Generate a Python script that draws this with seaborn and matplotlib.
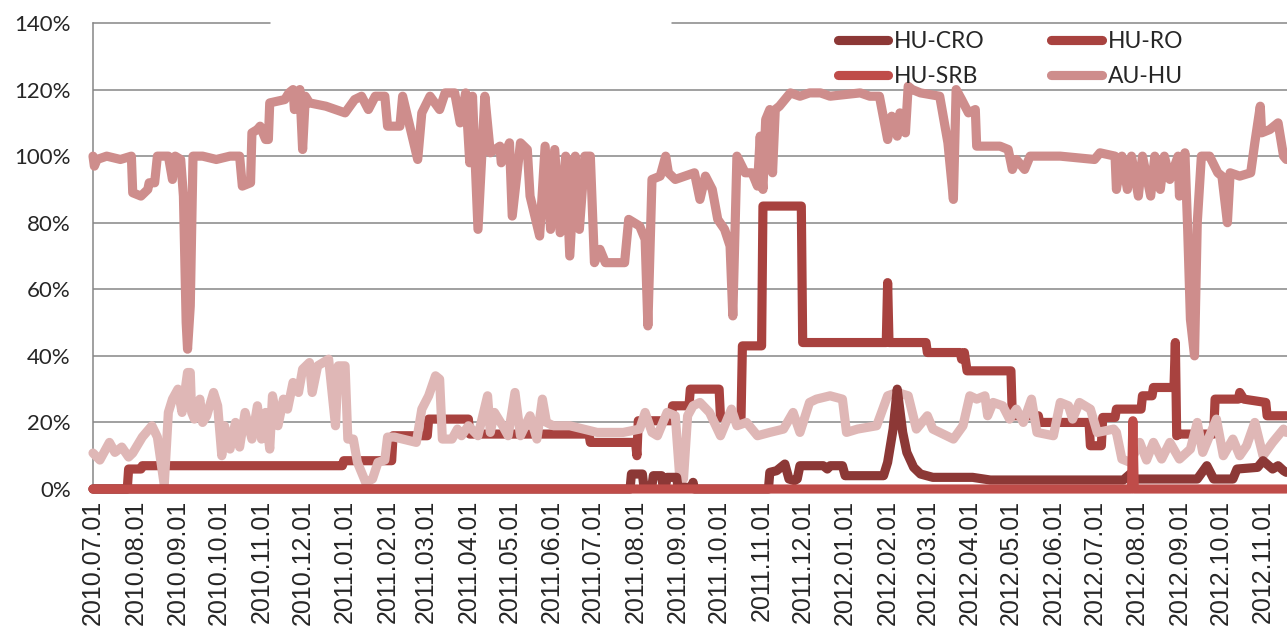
import numpy as np
import pandas as pd
import matplotlib
matplotlib.use('Agg')
import matplotlib.pyplot as plt
import matplotlib.dates as mdates
import seaborn as sns

# day offsets from 2010.07.01 and values in %
START = pd.Timestamp('2010-07-01')
END_DAY = 871.5

hu_cro_day = [0, 392, 393, 401, 402, 408, 409, 415, 416, 418, 419, 426, 427, 437, 438, 439, 493, 494, 499, 505,
              508, 512, 514, 516, 533, 536, 538, 547, 549, 558, 562, 577, 580, 584, 587, 591, 594, 599, 604, 613,
              642, 655, 752, 757, 760, 766, 806, 813, 818, 832, 835, 850, 854, 861, 865, 869, 871]
hu_cro_val = [0, 0, 4.5, 4.5, 1, 1, 4, 4, 1, 1, 3.5, 3.5, 0.5, 0.5, 2, 0, 0, 5, 5.5, 7.5,
              3, 2.5, 3, 7, 7, 6, 7, 7, 4, 4, 4, 4, 8, 18, 30, 17, 11, 6.5, 4.5, 3.5,
              3.5, 2.7, 2.7, 4.5, 3, 3, 3, 7, 3, 3, 6, 6.5, 8.5, 6, 7, 5.5, 5]

hu_ro_day = [0, 25, 26, 35, 36, 182, 183, 218, 219, 244, 245, 274, 275, 362, 363, 396, 397, 398, 422, 423,
             435, 436, 457, 458, 473, 474, 488, 489, 517, 518, 579, 580, 581, 608, 609, 633, 634, 636, 638, 670,
             671, 690, 691, 727, 728, 736, 737, 746, 747, 765, 766, 773, 774, 789, 790, 791, 792, 818, 819, 836,
             837, 840, 856, 857, 871]
hu_ro_val = [0, 0, 6, 6, 7, 7, 8.5, 8.5, 16, 16, 21, 21, 16.5, 16.5, 14, 14, 10, 20.5, 20.5, 25,
             25, 30, 30, 21.5, 21.5, 43, 43, 85, 85, 44, 44, 62, 44, 44, 41, 41, 39, 41, 35.5, 35.5,
             22, 22, 20, 20, 13, 13, 21.5, 21.5, 24, 24, 28, 28, 30.5, 30.5, 44, 16, 16.5, 16.5, 27, 27,
             29, 27, 26, 22, 22]

hu_srb_day = [0, 758, 759, 760, 871]
hu_srb_val = [0, 0, 20.5, 0, 0]

au_hu_day = [0, 1, 3, 10, 20, 28, 29, 35, 40, 41, 45, 47, 55, 58, 60, 64, 66, 68, 69, 71,
             73, 80, 90, 100, 107, 109, 115, 116, 120, 122, 126, 128, 129, 140, 143, 146, 147, 151, 153, 155,
             158, 170, 184, 191, 196, 201, 206, 213, 215, 224, 226, 237, 240, 246, 253, 257, 264, 268, 272, 275,
             277, 281, 286, 290, 297, 298, 304, 306, 312, 317, 319, 326, 330, 334, 337, 341, 345, 348, 352, 355,
             359, 363, 366, 370, 374, 388, 391, 399, 403, 405, 408, 414, 418, 420, 425, 432, 439, 443, 447, 452,
             456, 461, 465, 467, 470, 476, 481, 485, 487, 488, 489, 491, 494, 496, 498, 501, 505, 509, 516, 523,
             531, 538, 560, 567, 574, 580, 583, 587, 589, 593, 595, 598, 604, 618, 624, 628, 630, 634, 639, 644,
             645, 662, 668, 671, 674, 680, 684, 691, 706, 731, 735, 746, 747, 751, 755, 758, 763, 766, 772, 775,
             779, 782, 786, 792, 793, 797, 799, 801, 804, 806, 809, 815, 821, 824, 828, 830, 837, 845, 848, 852,
             853, 859, 865, 869, 871]
au_hu_val = [100, 97, 99, 100, 99, 100, 89, 88, 90, 92, 92, 100, 100, 93, 100, 99, 88, 50, 42, 55,
             100, 100, 99, 100, 100, 91, 92, 107, 108, 109, 105, 105, 116, 117, 119, 120, 114, 120, 102, 118,
             116, 115, 113, 117, 118, 114, 118, 118, 109, 109, 118, 99, 113, 118, 114, 119, 119, 110, 119, 98,
             118, 78, 118, 101, 103, 98, 104, 82, 104, 102, 88, 76, 103, 78, 102, 77, 100, 70, 100, 78,
             100, 100, 68, 72, 68, 68, 81, 79, 75, 49, 93, 94, 100, 95, 93, 94, 95, 87, 94, 90,
             81, 78, 73, 52, 100, 95, 95, 91, 106, 95, 90, 111, 114, 95, 114, 115, 117, 119, 118, 119,
             119, 118, 119, 118, 118, 105, 112, 106, 113, 107, 121, 120, 119, 118, 104, 87, 120, 117, 113, 114,
             103, 103, 102, 96, 99, 96, 100, 100, 100, 99, 101, 100, 90, 100, 90, 100, 88, 100, 88, 100,
             90, 100, 93, 100, 88, 101, 78, 51, 40, 80, 100, 100, 95, 94, 80, 95, 94, 95, 104, 115,
             107, 108, 110, 100, 99]

# fifth series, not named in the legend
other_day = [0, 5, 12, 16, 21, 26, 29, 36, 43, 47, 52, 55, 58, 62, 65, 69, 71, 72, 74, 78,
             80, 83, 88, 91, 94, 96, 100, 104, 107, 111, 116, 120, 123, 126, 129, 131, 135, 139, 142, 146,
             150, 153, 158, 160, 164, 172, 177, 179, 184, 186, 190, 193, 199, 204, 208, 213, 215, 220, 236, 240,
             245, 250, 253, 255, 262, 266, 269, 274, 281, 288, 290, 293, 299, 303, 308, 312, 319, 324, 328, 331,
             336, 348, 358, 368, 387, 399, 403, 408, 412, 419, 425, 428, 431, 434, 438, 443, 450, 458, 466, 470,
             477, 485, 494, 504, 511, 516, 523, 528, 538, 547, 550, 558, 572, 580, 587, 595, 601, 609, 613, 628,
             635, 640, 645, 651, 653, 657, 664, 669, 674, 679, 685, 689, 701, 706, 712, 715, 720, 728, 733, 745,
             747, 751, 757, 764, 769, 774, 780, 786, 793, 801, 806, 810, 820, 825, 832, 837, 842, 848, 854, 861,
             869, 871]
other_val = [10.8, 8.7, 14, 11, 12.6, 9.6, 10.8, 15.6, 19, 15.6, 1.2, 23, 27, 30, 23, 35, 35, 23, 21, 27,
             20, 22, 29, 25, 10, 19, 12, 20, 12.6, 23, 15, 25, 15, 23, 12, 28, 19, 27, 24, 32,
             29, 36, 38, 29, 37, 39, 19, 37, 37, 15, 15, 8, 2, 3, 8, 8.7, 15.6, 15.6, 14, 24,
             28, 34, 33, 15, 15, 18, 16, 19, 16, 28, 17, 23, 19, 16, 29, 16, 22, 15, 27, 20,
             19, 19, 18, 17, 17, 18, 23, 17, 16, 23, 22, 5, 3, 22, 25, 26, 23, 16, 24, 19,
             20, 16, 17, 18, 23, 17, 26, 27, 28, 27, 17, 18, 19, 28, 29, 28, 18, 22, 18, 15,
             19, 28, 27, 28, 22, 26, 25, 21, 24, 20, 27, 17, 16, 26, 25, 21, 26, 24, 17, 18,
             17, 9, 8, 14, 8.7, 14, 9, 14, 9, 12, 20, 11, 21, 10, 15, 10, 13, 20, 10, 14,
             18, 17]

series = [
    # name, days, values, colour, zorder
    ('HU-RO', hu_ro_day, hu_ro_val, '#A8423F', 2),
    ('_nolegend_', other_day, other_val, '#DFB7B6', 3),
    ('HU-CRO', hu_cro_day, hu_cro_val, '#8C3836', 4),
    ('AU-HU', au_hu_day, au_hu_val, '#CE8D8C', 5),
    ('HU-SRB', hu_srb_day, hu_srb_val, '#BF4C49', 6),
]

grid_col = '#868686'

sns.set_style('white')
plt.rcParams['font.family'] = ['Lato', 'DejaVu Sans']

fig = plt.figure(figsize=(12.87, 6.28), dpi=100)
ax = fig.add_axes([93 / 1287, 1 - 489 / 628, 1194 / 1287, 466 / 628])

for name, days, vals, col, z in series:
    dates = START + pd.to_timedelta(np.array(days, dtype=float), unit='D')
    sns.lineplot(x=dates, y=vals, ax=ax, color=col, linewidth=6.6, estimator=None, sort=False,
                 label=name, zorder=z, solid_capstyle='round', solid_joinstyle='round', clip_on=False)

ax.set_xlim(START, START + pd.Timedelta(days=END_DAY))
ax.set_ylim(0, 140)
ax.set_xlabel('')
ax.set_ylabel('')

# gridlines (the 140% one is broken in the original)
for v in range(20, 140, 20):
    ax.axhline(v, color=grid_col, lw=1.1, zorder=0)
ax.axhline(140, xmin=0, xmax=(270 - 93) / 1194, color=grid_col, lw=1.1, zorder=0, clip_on=False)
ax.axhline(140, xmin=(672 - 93) / 1194, xmax=1, color=grid_col, lw=1.1, zorder=0, clip_on=False)

for s in ['top', 'right']:
    ax.spines[s].set_visible(False)
for s in ['left', 'bottom']:
    ax.spines[s].set_color(grid_col)
    ax.spines[s].set_linewidth(1.1)

ax.set_yticks(range(0, 141, 20))
ax.set_yticklabels([f'{v}%' for v in range(0, 141, 20)])
ax.xaxis.set_major_locator(mdates.MonthLocator())
ax.xaxis.set_major_formatter(mdates.DateFormatter('%Y.%m.%d'))

ax.tick_params(axis='both', direction='out', length=6, width=1.1, color=grid_col)
ax.tick_params(axis='y', labelsize=16, pad=10)
ax.tick_params(axis='x', pad=2)
plt.setp(ax.get_xticklabels(), rotation=90, fontsize=18, family='Liberation Sans')

handles, labels = ax.get_legend_handles_labels()
lookup = dict(zip(labels, handles))
order = ['HU-CRO', 'HU-SRB', 'HU-RO', 'AU-HU']
ax.legend([lookup[k] for k in order], order, ncol=2, loc='upper left',
          bbox_to_anchor=(838 / 1287, 1 - 31 / 628), bbox_transform=fig.transFigure,
          frameon=False, borderpad=0, borderaxespad=0, fontsize=16.5,
          handlelength=2.2, handletextpad=0.25, columnspacing=2.9, labelspacing=0.6)

fig.savefig('out.png', dpi=100)
